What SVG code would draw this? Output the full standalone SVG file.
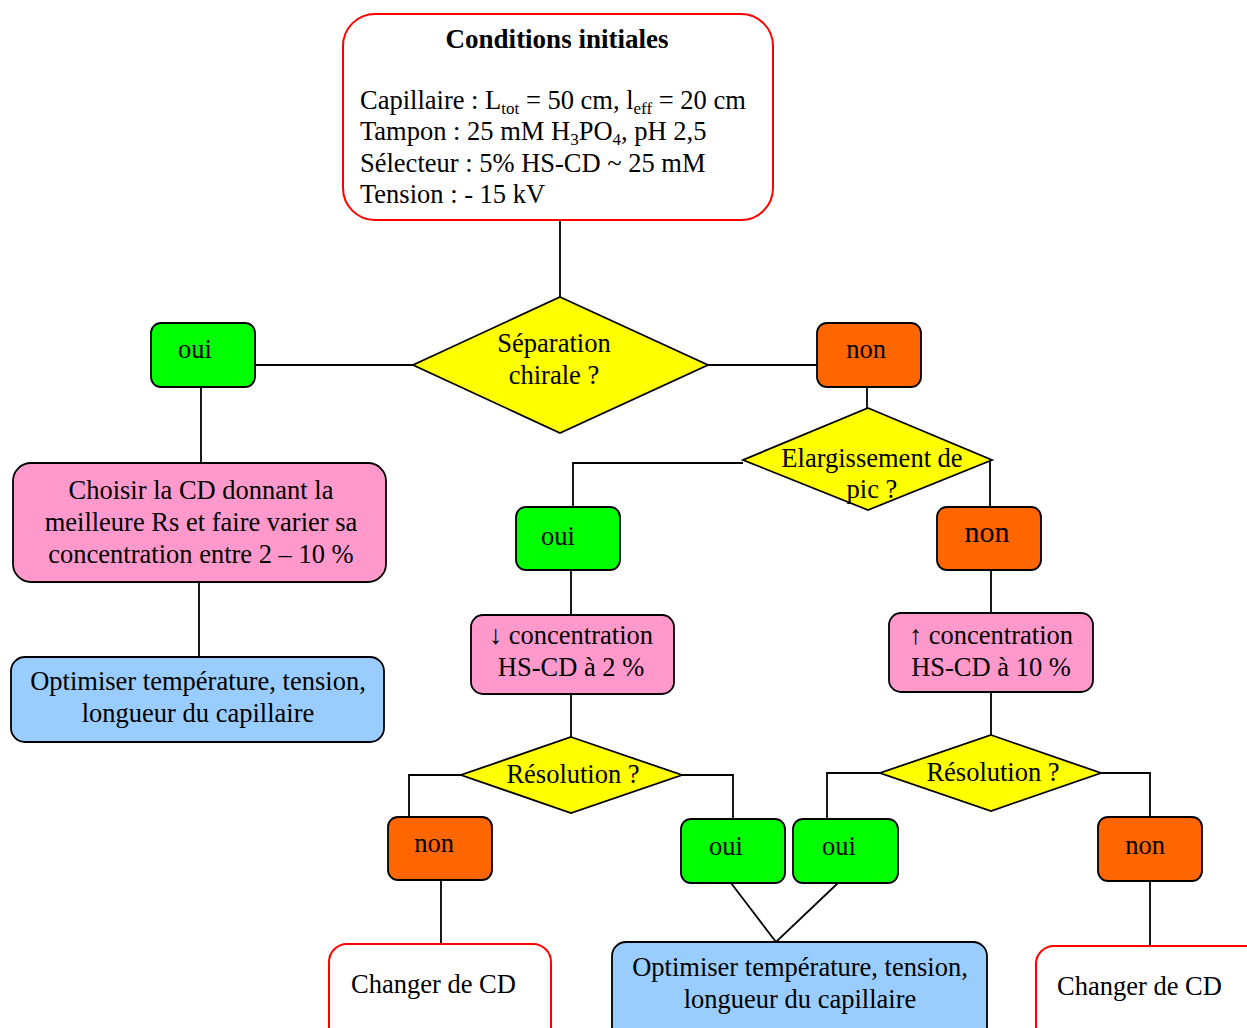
<svg xmlns="http://www.w3.org/2000/svg" width="1247" height="1028" viewBox="0 0 1247 1028" font-family="'Liberation Serif', 'Times New Roman', Times, serif">
<style>
text{font-family:'Liberation Serif','Times New Roman',Times,serif;font-size:26.5px;fill:#000}
.c{text-anchor:middle}
.box{stroke:#000;stroke-width:1.8}
.green{fill:#00ff00}
.orange{fill:#ff6600}
.pink{fill:#ff99cc}
.blue{fill:#99ccff}
.red{fill:#fff;stroke:#ff0000;stroke-width:2}
.dia{fill:#ffff00;stroke:#000;stroke-width:1.8}
.ln{fill:none;stroke:#000;stroke-width:1.8}
.sub{font-size:17px}
</style>
<rect width="1247" height="1028" fill="#fff"/>
<g id="connectors">
<path class="ln" d="M560,220 V297"/>
<path class="ln" d="M255,365 H413"/>
<path class="ln" d="M708,365 H817"/>
<path class="ln" d="M201,387 V463"/>
<path class="ln" d="M199,582 V657"/>
<path class="ln" d="M867,387 V408"/>
<path class="ln" d="M743,463 H573 V507"/>
<path class="ln" d="M990,460 V507"/>
<path class="ln" d="M571,570 V615"/>
<path class="ln" d="M991,570 V613"/>
<path class="ln" d="M571,694 V737"/>
<path class="ln" d="M461,775 H409 V817"/>
<path class="ln" d="M682,775 H733 V819"/>
<path class="ln" d="M991,692 V735"/>
<path class="ln" d="M880,773 H827 V819"/>
<path class="ln" d="M1101,773 H1150 V817"/>
<path class="ln" d="M731,883 L776,942 L838,883"/>
<path class="ln" d="M441,880 V944"/>
<path class="ln" d="M1150,881 V946"/>
</g>
<g id="conditions">
<rect class="red" x="343" y="14" width="430" height="206" rx="32"/>
<text class="c" x="557" y="48" font-weight="bold" style="font-size:27px">Conditions initiales</text>
<text x="360" y="109">Capillaire : L<tspan class="sub" dy="5">tot</tspan><tspan dy="-5"> = 50 cm, l</tspan><tspan class="sub" dy="5">eff</tspan><tspan dy="-5"> = 20 cm</tspan></text>
<text x="360" y="140">Tampon : 25 mM H<tspan class="sub" dy="5">3</tspan><tspan dy="-5">PO</tspan><tspan class="sub" dy="5">4</tspan><tspan dy="-5">, pH 2,5</tspan></text>
<text x="360" y="172">Sélecteur : 5% HS-CD ~ 25 mM</text>
<text x="360" y="203">Tension : - 15 kV</text>
</g>
<g id="separation">
<polygon class="dia" points="560,297 708,365 560,433 413,365"/>
<text class="c" x="554" y="352">Séparation</text>
<text class="c" x="554" y="384">chirale ?</text>
</g>
<g id="oui1">
<rect class="box green" x="151" y="323" width="104" height="64" rx="10"/>
<text class="c" x="195" y="358">oui</text>
</g>
<g id="non1">
<rect class="box orange" x="817" y="323" width="104" height="64" rx="10"/>
<text class="c" x="866" y="358">non</text>
</g>
<g id="choisir">
<rect class="box pink" x="13" y="463" width="373" height="119" rx="18"/>
<text class="c" x="201" y="499">Choisir la CD donnant la</text>
<text class="c" x="201" y="531">meilleure Rs et faire varier sa</text>
<text class="c" x="201" y="563">concentration entre 2 – 10 %</text>
</g>
<g id="optimiser1">
<rect class="box blue" x="11" y="657" width="373" height="85" rx="14"/>
<text class="c" x="198" y="690">Optimiser température, tension,</text>
<text class="c" x="198" y="722">longueur du capillaire</text>
</g>
<g id="elargissement">
<polygon class="dia" points="868,408 992,460 868,510 743,460"/>
<text class="c" x="872" y="467">Elargissement de</text>
<text class="c" x="872" y="498">pic ?</text>
</g>
<g id="oui2">
<rect class="box green" x="516" y="507" width="104" height="63" rx="10"/>
<text class="c" x="558" y="545">oui</text>
</g>
<g id="non2">
<rect class="box orange" x="937" y="507" width="104" height="63" rx="10"/>
<text class="c" x="987" y="542" style="font-size:30px">non</text>
</g>
<g id="diminuer">
<rect class="box pink" x="471" y="615" width="203" height="79" rx="12"/>
<text class="c" x="571" y="644">↓ concentration</text>
<text class="c" x="571" y="676">HS-CD à 2 %</text>
</g>
<g id="augmenter">
<rect class="box pink" x="889" y="613" width="204" height="79" rx="12"/>
<text class="c" x="991" y="644">↑ concentration</text>
<text class="c" x="991" y="676">HS-CD à 10 %</text>
</g>
<g id="resolution1">
<polygon class="dia" points="571,737 682,775 571,813 461,775"/>
<text class="c" x="573" y="783">Résolution ?</text>
</g>
<g id="resolution2">
<polygon class="dia" points="991,735 1101,773 991,811 880,773"/>
<text class="c" x="993" y="781">Résolution ?</text>
</g>
<g id="non3">
<rect class="box orange" x="388" y="817" width="104" height="63" rx="10"/>
<text class="c" x="434" y="852">non</text>
</g>
<g id="oui3">
<rect class="box green" x="681" y="819" width="104" height="64" rx="10"/>
<text class="c" x="726" y="855">oui</text>
</g>
<g id="oui4">
<rect class="box green" x="793" y="819" width="105" height="64" rx="10"/>
<text class="c" x="839" y="855">oui</text>
</g>
<g id="non4">
<rect class="box orange" x="1098" y="817" width="104" height="64" rx="10"/>
<text class="c" x="1145" y="854">non</text>
</g>
<g id="changer1">
<rect class="red" x="329" y="944" width="222" height="110" rx="18"/>
<text x="351" y="993">Changer de CD</text>
</g>
<g id="optimiser2">
<rect class="box blue" x="612" y="942" width="375" height="110" rx="14"/>
<text class="c" x="800" y="976">Optimiser température, tension,</text>
<text class="c" x="800" y="1008">longueur du capillaire</text>
</g>
<g id="changer2">
<rect class="red" x="1036" y="946" width="230" height="110" rx="18"/>
<text x="1057" y="995">Changer de CD</text>
</g>
</svg>
